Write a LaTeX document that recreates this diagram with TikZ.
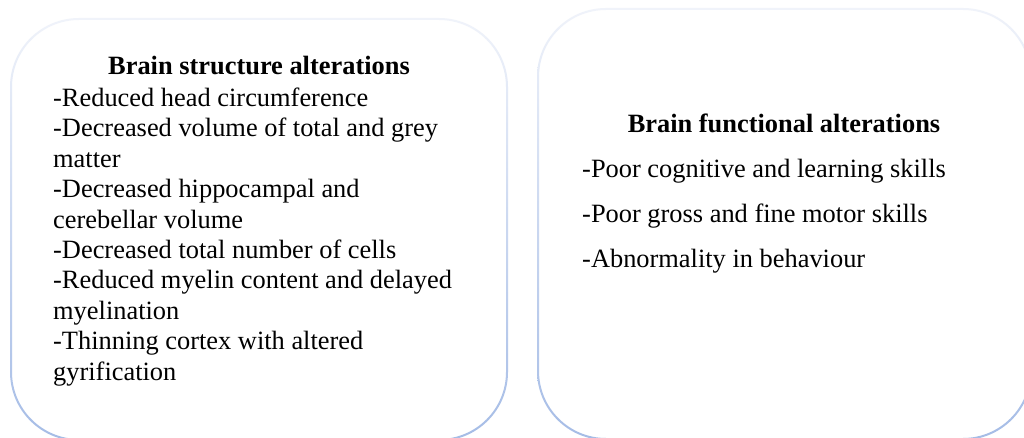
\documentclass[tikz,border=0pt]{standalone}
\usepackage{fontspec}
\setmainfont{Liberation Serif}
\definecolor{ringtop}{HTML}{F0F3FA}
\definecolor{ringmid}{HTML}{D3DEF2}
\definecolor{ringbot}{HTML}{A5BCE6}
\tikzset{
  ring/.style={top color=ringtop, middle color=ringmid, bottom color=ringbot, even odd rule, draw=none},
  bodytext/.style={inner sep=0pt, align=left, font=\fontsize{26.4}{30.4}\selectfont},
  headtext/.style={inner sep=0pt, font=\fontsize{26.4}{30.4}\selectfont\bfseries}
}
\begin{document}
\begin{tikzpicture}[x=1pt,y=-1pt]
\useasboundingbox[fill=white] (0,0) rectangle (1024,438);
% left box ring
\path[ring] [rounded corners=69pt] (10,18) rectangle (508,441)
            [rounded corners=67pt] (12,20) rectangle (506,439);
% right box ring
\path[ring] [rounded corners=69pt] (537,8) rectangle (1032,440)
            [rounded corners=67pt] (539,10) rectangle (1030,438);
\node[headtext, anchor=base] (lhead) at (259,75) {Brain structure alterations};
% anchor base = baseline of the last line
\node[bodytext, anchor=base west] (lbody) at (53,380.1) {-Reduced head circumference\\
-Decreased volume of total and grey\\
matter\\
-Decreased hippocampal and\\
cerebellar volume\\
-Decreased total number of cells\\
-Reduced myelin content and delayed\\
myelination\\
-Thinning cortex with altered\\
gyrification};
\node[headtext, anchor=base] (rhead) at (784,133) {Brain functional alterations};
\node[bodytext, anchor=base west] (rbody) at (582,267) {-Poor cognitive and learning skills\\[14.6pt]
-Poor gross and fine motor skills\\[14.6pt]
-Abnormality in behaviour};
\end{tikzpicture}
\end{document}
